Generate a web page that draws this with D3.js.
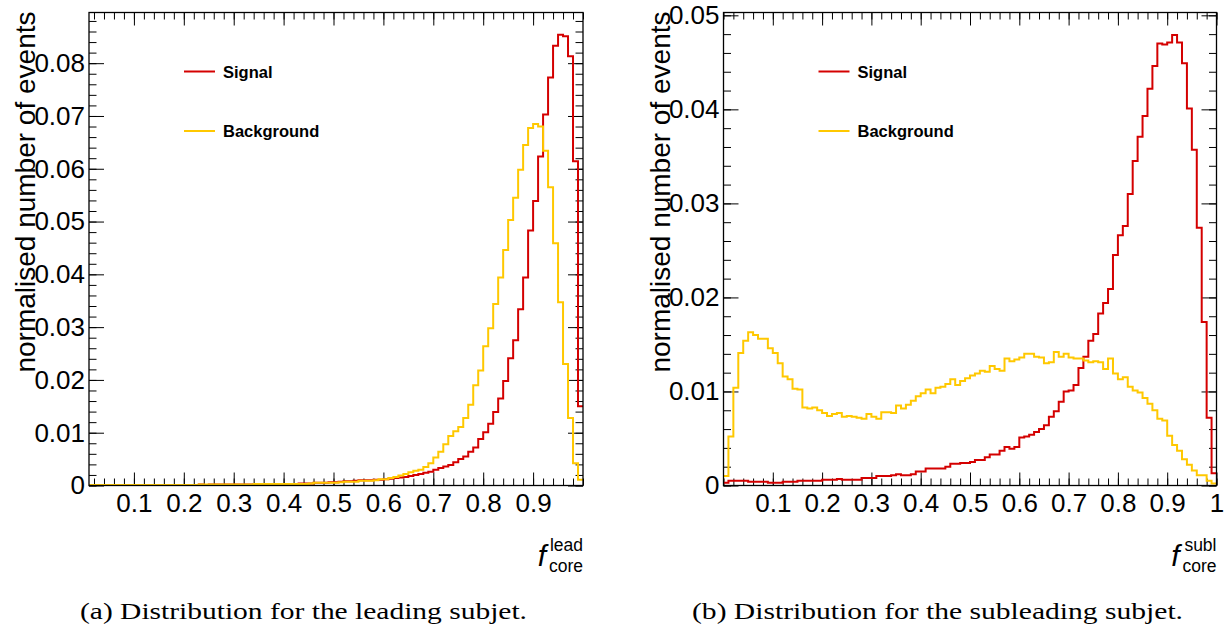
<!DOCTYPE html>
<html>
<script src="https://d3js.org/d3.v7.min.js"></script>

<head>
    <style>
        body {
            margin: 0;
            background-color: #ffffff;
        }

        svg {
            display: block;
            font-family: "Liberation Sans", Arial, Helvetica, sans-serif;
        }
    </style>
</head>

<body>
</body>
<script>
    // normalised bin contents, bin width 0.01
    // leading subjet: bins start at 0.01, subleading subjet: bins start at 0.00
    const binWidth = 0.01;
    const leadStart = 0.01;
    const sublStart = 0.0;

    const leadSignal = [
        0.0001, 0.0001, 0.0001, 0.0001, 0.0001, 0.0001, 0.0001, 0.0001, 0.0001, 0.0001,
        0.0001, 0.0001, 0.0001, 0.0001, 0.0001, 0.0001, 0.0001, 0.0001, 0.0001, 0.0001,
        0.0001, 0.0001, 0.0002, 0.0001, 0.0002, 0.0002, 0.0002, 0.0002, 0.0002, 0.0002,
        0.0002, 0.0002, 0.0002, 0.0003, 0.0002, 0.0003, 0.0003, 0.0003, 0.0003,
        0.0003, 0.0003, 0.0003, 0.0004, 0.0004, 0.0004, 0.0005, 0.0005, 0.0005, 0.0006,
        0.0006, 0.0007, 0.0008, 0.0008, 0.0009, 0.0010, 0.0010, 0.0010, 0.0011, 0.0011,
        0.0012, 0.0013, 0.0014, 0.0015, 0.0016, 0.0018, 0.0020, 0.0022, 0.0024, 0.0026,
        0.0030, 0.0033, 0.0036, 0.0039, 0.0044, 0.0050, 0.0055, 0.0064, 0.0072, 0.0088,
        0.0101, 0.0117, 0.0139, 0.0165, 0.0198, 0.0241, 0.0275, 0.0334, 0.0394, 0.0483,
        0.0539, 0.0623, 0.0703, 0.0773, 0.0833, 0.0854, 0.0851, 0.0813, 0.0614, 0.0150
    ];
    const leadBackground = [
        0.0001, 0.0001, 0.0001, 0.0001, 0.0001, 0.0001, 0.0001, 0.0001, 0.0001, 0.0001,
        0.0001, 0.0001, 0.0001, 0.0001, 0.0001, 0.0001, 0.0001, 0.0001, 0.0001, 0.0001,
        0.0001, 0.0001, 0.0002, 0.0002, 0.0002, 0.0002, 0.0002, 0.0002, 0.0002, 0.0002,
        0.0002, 0.0002, 0.0002, 0.0003, 0.0003, 0.0003, 0.0003, 0.0003, 0.0003,
        0.0003, 0.0003, 0.0003, 0.0003, 0.0003, 0.0004, 0.0005, 0.0005, 0.0005, 0.0005,
        0.0005, 0.0006, 0.0007, 0.0007, 0.0007, 0.0009, 0.0009, 0.0009, 0.0010, 0.0012,
        0.0012, 0.0014, 0.0016, 0.0019, 0.0022, 0.0025, 0.0028, 0.0030, 0.0035, 0.0042,
        0.0053, 0.0064, 0.0078, 0.0094, 0.0103, 0.0111, 0.0128, 0.0153, 0.0190, 0.0218,
        0.0264, 0.0298, 0.0344, 0.0394, 0.0446, 0.0503, 0.0545, 0.0598, 0.0645, 0.0677,
        0.0685, 0.0680, 0.0634, 0.0565, 0.0459, 0.0347, 0.0230, 0.0128, 0.0042, 0.0011
    ];
    const sublSignal = [
        0.0003, 0.0005, 0.0005, 0.0005, 0.0005, 0.0004, 0.0004, 0.0004, 0.0004, 0.0003,
        0.0003, 0.0003, 0.0004, 0.0004, 0.0004, 0.0005, 0.0005, 0.0005, 0.0005, 0.0005,
        0.0006, 0.0006, 0.0006, 0.0007, 0.0006, 0.0006, 0.0006, 0.0006, 0.0008, 0.0008,
        0.0008, 0.0010, 0.0010, 0.0010, 0.0011, 0.0012, 0.0011, 0.0011, 0.0012, 0.0015,
        0.0015, 0.0018, 0.0018, 0.0018, 0.0018, 0.0020, 0.0023, 0.0023, 0.0024, 0.0024,
        0.0025, 0.0027, 0.0027, 0.0030, 0.0033, 0.0033, 0.0037, 0.0041, 0.0039, 0.0041,
        0.0051, 0.0052, 0.0054, 0.0057, 0.0060, 0.0064, 0.0073, 0.0079, 0.0089, 0.0100,
        0.0101, 0.0107, 0.0125, 0.0137, 0.0154, 0.0161, 0.0183, 0.0194, 0.0209, 0.0245,
        0.0266, 0.0276, 0.0310, 0.0345, 0.0371, 0.0393, 0.0422, 0.0446, 0.0470, 0.0469,
        0.0471, 0.0479, 0.0471, 0.0449, 0.0401, 0.0357, 0.0274, 0.0174, 0.0072, 0.0013
    ];
    const sublBackground = [
        0.0010, 0.0052, 0.0104, 0.0141, 0.0154, 0.0163, 0.0160, 0.0156, 0.0156, 0.0146,
        0.0141, 0.0130, 0.0116, 0.0113, 0.0103, 0.0102, 0.0083, 0.0082, 0.0083, 0.0080,
        0.0077, 0.0074, 0.0076, 0.0077, 0.0073, 0.0074, 0.0073, 0.0072, 0.0071, 0.0076,
        0.0073, 0.0071, 0.0078, 0.0078, 0.0077, 0.0085, 0.0082, 0.0086, 0.0090, 0.0095,
        0.0098, 0.0102, 0.0098, 0.0104, 0.0105, 0.0108, 0.0113, 0.0107, 0.0111, 0.0114,
        0.0117, 0.0119, 0.0122, 0.0121, 0.0127, 0.0124, 0.0122, 0.0135, 0.0132, 0.0134,
        0.0136, 0.0140, 0.0140, 0.0137, 0.0136, 0.0130, 0.0131, 0.0142, 0.0137, 0.0140,
        0.0136, 0.0135, 0.0135, 0.0133, 0.0131, 0.0132, 0.0131, 0.0124, 0.0135, 0.0119,
        0.0113, 0.0115, 0.0105, 0.0101, 0.0099, 0.0093, 0.0087, 0.0080, 0.0071, 0.0069,
        0.0053, 0.0043, 0.0037, 0.0028, 0.0022, 0.0016, 0.0011, 0.0011, 0.0005, 0.0002
    ];

    const leadXLabels = ["0.1", "0.2", "0.3", "0.4", "0.5", "0.6", "0.7", "0.8", "0.9"];
    const sublXLabels = ["0.1", "0.2", "0.3", "0.4", "0.5", "0.6", "0.7", "0.8", "0.9", "1"];
    const leadYLabels = ["0", "0.01", "0.02", "0.03", "0.04", "0.05", "0.06", "0.07", "0.08"];
    const sublYLabels = ["0", "0.01", "0.02", "0.03", "0.04", "0.05"];
    const leadYMax = 0.0896;
    const sublYMax = 0.0503;

    const legendNames = ["Signal", "Background"];
    const captions = ["(a) Distribution for the leading subjet.", "(b) Distribution for the subleading subjet."];
    const yTitle = "normalised number of events";

    const signalColor = "#d40000";
    const backgroundColor = "#ffc800";

    const width = 1228,
        height = 626;
    const svg = d3.select("body").append("svg").attr("width", width).attr("height", height);

    function drawPanel(p) {
        const x = d3.scaleLinear().domain(p.xDomain).range([p.left, p.right]);
        const y = d3.scaleLinear().domain([0, p.yMax]).range([p.bottom, p.top]);
        const g = svg.append("g");

        const xMajor = p.xLabels.map(Number);
        const yMajor = p.yLabels.map(Number);

        // minor ticks
        g.append("g")
            .attr("transform", `translate(0,${p.bottom})`)
            .call(d3.axisBottom(x).ticks(50).tickSize(-7).tickFormat(""));
        g.append("g")
            .attr("transform", `translate(0,${p.top})`)
            .call(d3.axisTop(x).ticks(50).tickSize(-7).tickFormat(""));
        g.append("g")
            .attr("transform", `translate(${p.left},0)`)
            .call(d3.axisLeft(y).ticks(p.yMax / 0.002).tickSize(-7.5).tickFormat(""));
        g.append("g")
            .attr("transform", `translate(${p.right},0)`)
            .call(d3.axisRight(y).ticks(p.yMax / 0.002).tickSize(-7.5).tickFormat(""));

        // major ticks + labels
        g.append("g")
            .attr("class", "xlab")
            .attr("transform", `translate(0,${p.bottom})`)
            .call(d3.axisBottom(x).tickValues(xMajor).tickSize(-13).tickPadding(8)
                .tickFormat((d, i) => p.xLabels[i]));
        g.append("g")
            .attr("transform", `translate(0,${p.top})`)
            .call(d3.axisTop(x).tickValues(xMajor).tickSize(-13).tickFormat(""));
        g.append("g")
            .attr("class", "ylab")
            .attr("transform", `translate(${p.left},0)`)
            .call(d3.axisLeft(y).tickValues(yMajor).tickSize(-15).tickPadding(4)
                .tickFormat((d, i) => p.yLabels[i]));
        g.append("g")
            .attr("transform", `translate(${p.right},0)`)
            .call(d3.axisRight(y).tickValues(yMajor).tickSize(-15).tickFormat(""));

        g.selectAll(".domain").remove();
        g.selectAll(".tick line").attr("stroke", "#000").attr("stroke-width", 1);
        g.selectAll(".xlab text, .ylab text")
            .attr("font-family", "'Liberation Sans', Arial, sans-serif")
            .attr("font-size", 26)
            .attr("fill", "#000");

        // histograms
        const step = d3.line().curve(d3.curveStepAfter);
        const series = [
            { values: p.signal, color: signalColor },
            { values: p.background, color: backgroundColor }
        ];
        series.forEach(s => {
            const pts = s.values.map((v, i) => [x(p.start + i * binWidth), y(v)]);
            pts.push([x(p.start + s.values.length * binWidth), y(s.values[s.values.length - 1])]);
            g.append("path")
                .attr("d", step(pts))
                .attr("fill", "none")
                .attr("stroke", s.color)
                .attr("stroke-width", 2);
        });

        // frame
        g.append("rect")
            .attr("x", p.left)
            .attr("y", p.top)
            .attr("width", p.right - p.left)
            .attr("height", p.bottom - p.top)
            .attr("fill", "none")
            .attr("stroke", "#000")
            .attr("stroke-width", 1.3);

        // legend
        [signalColor, backgroundColor].forEach((c, i) => {
            const ly = p.top + 59 + i * 59.5;
            g.append("line")
                .attr("x1", p.left + 95)
                .attr("x2", p.left + 126)
                .attr("y1", ly)
                .attr("y2", ly)
                .attr("stroke", c)
                .attr("stroke-width", 2);
            g.append("text")
                .attr("x", p.left + 134)
                .attr("y", ly + 6)
                .attr("font-size", 16.5)
                .attr("font-weight", "bold")
                .text(legendNames[i]);
        });

        // y title
        g.append("text")
            .attr("transform", `translate(${p.left - 54},${p.top - 1}) rotate(-90)`)
            .attr("text-anchor", "end")
            .attr("font-size", 28)
            .text(yTitle);

        // x title
        g.append("text")
            .attr("x", p.right - 37)
            .attr("y", p.bottom + 80)
            .attr("text-anchor", "end")
            .attr("font-size", 30)
            .attr("font-style", "italic")
            .text("f");
        g.append("text")
            .attr("x", p.right)
            .attr("y", p.bottom + 65)
            .attr("text-anchor", "end")
            .attr("font-size", 17.5)
            .text(p.sup);
        g.append("text")
            .attr("x", p.right)
            .attr("y", p.bottom + 86)
            .attr("text-anchor", "end")
            .attr("font-size", 17.5)
            .text("core");

        // caption
        svg.append("text")
            .attr("x", p.captionX)
            .attr("y", 619)
            .attr("font-family", "'Liberation Serif', 'DejaVu Serif', serif")
            .attr("font-size", 24)
            .attr("textLength", p.captionWidth)
            .attr("lengthAdjust", "spacingAndGlyphs")
            .text(p.caption);
    }

    drawPanel({
        left: 89, right: 583, top: 12.5, bottom: 485.5,
        xDomain: [leadStart, 1.0], yMax: leadYMax, start: leadStart,
        signal: leadSignal, background: leadBackground,
        xLabels: leadXLabels, yLabels: leadYLabels, sup: "lead",
        caption: captions[0], captionX: 80, captionWidth: 447
    });
    drawPanel({
        left: 723.5, right: 1216.5, top: 12.5, bottom: 485.5,
        xDomain: [sublStart, 1.0], yMax: sublYMax, start: sublStart,
        signal: sublSignal, background: sublBackground,
        xLabels: sublXLabels, yLabels: sublYLabels, sup: "subl",
        caption: captions[1], captionX: 692, captionWidth: 491
    });
</script>

</html>
